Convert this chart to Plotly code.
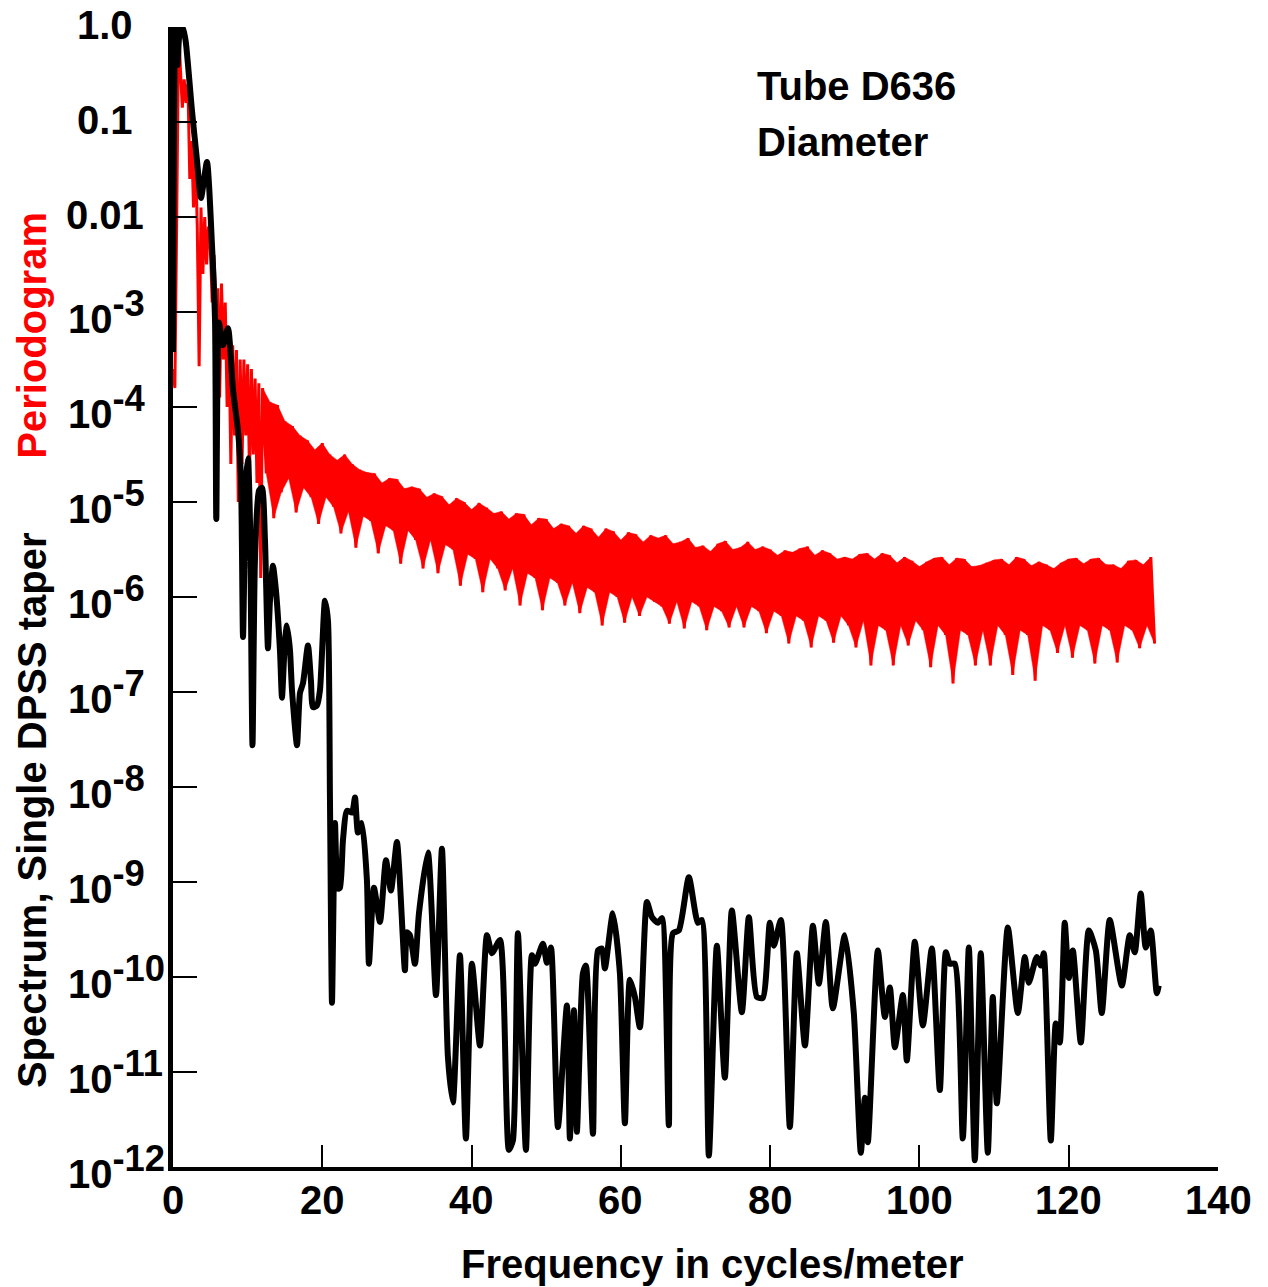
import numpy as np
import plotly.graph_objects as go

# ---------------- data ----------------
# Periodogram, low-frequency part (freq in cycles/m, log10 of spectrum)
red_freq_low = [0.0, 0.25, 0.5, 0.75, 1.0, 1.25, 1.5, 1.75, 2.0, 2.25, 2.5, 2.75,
                3.0, 3.25, 3.5, 3.75, 4.0, 4.25, 4.5, 4.75, 5.0, 5.25, 5.5, 5.75,
                6.0, 6.25, 6.5, 6.75, 7.0, 7.25, 7.5, 7.75, 8.0, 8.25, 8.5, 8.75,
                9.0, 9.25, 9.5, 9.75, 10.0, 10.25, 10.5, 10.75, 11.0, 11.25, 11.5, 11.75]
red_log_low = [-3.6, -3.8, -2.0, 0.0, -0.45, -0.85, -0.55, -0.8, -0.6, -1.6, -1.2, -1.9,
               -1.3, -2.1, -3.57, -1.9, -2.6, -2.0, -2.5, -2.1, -2.3, -2.9, -2.4, -3.0,
               -2.75, -3.9, -2.7, -3.5, -2.9, -4.0, -3.3, -4.6, -3.35, -4.3, -3.4, -5.0,
               -3.5, -4.6, -3.5, -4.3, -3.55, -4.7, -3.6, -4.5, -3.7, -4.8, -3.75, -5.8]

# Periodogram peaks at f = 12, 13, ..., 131 (log10)
red_hi_log = [-3.8, -3.95, -3.98, -4.15, -4.2, -4.3, -4.35, -4.45, -4.38, -4.5,
              -4.56, -4.5, -4.6, -4.66, -4.69, -4.7, -4.8, -4.75, -4.76, -4.86,
              -4.84, -4.86, -4.95, -4.91, -4.94, -5.03, -4.96, -5.0, -5.08, -5.01,
              -5.06, -5.12, -5.1, -5.18, -5.12, -5.13, -5.24, -5.17, -5.18, -5.28,
              -5.23, -5.25, -5.33, -5.25, -5.28, -5.37, -5.28, -5.31, -5.4, -5.32,
              -5.34, -5.42, -5.35, -5.38, -5.35, -5.44, -5.42, -5.38, -5.48, -5.46,
              -5.52, -5.44, -5.41, -5.5, -5.48, -5.42, -5.5, -5.47, -5.5, -5.56,
              -5.51, -5.53, -5.49, -5.47, -5.56, -5.51, -5.54, -5.6, -5.58, -5.6,
              -5.55, -5.54, -5.6, -5.54, -5.56, -5.64, -5.58, -5.62, -5.68, -5.63,
              -5.59, -5.58, -5.66, -5.59, -5.6, -5.68, -5.67, -5.64, -5.61, -5.6,
              -5.66, -5.58, -5.6, -5.67, -5.63, -5.66, -5.7, -5.64, -5.6, -5.59,
              -5.65, -5.6, -5.59, -5.66, -5.66, -5.7, -5.62, -5.61, -5.66, -5.58]
# Periodogram troughs at f = 12.5, 13.5, ..., 131.5 (log10)
red_lo_log = [-4.7, -5.17, -4.9, -4.75, -5.11, -4.85, -4.95, -5.23, -4.95, -5.05,
              -5.33, -5.1, -5.48, -5.15, -5.2, -5.54, -5.25, -5.3, -5.65, -5.3,
              -5.4, -5.7, -5.4, -5.75, -5.45, -5.5, -5.88, -5.55, -5.6, -5.95,
              -5.6, -5.7, -5.93, -5.7, -6.09, -5.75, -5.8, -6.14, -5.8, -5.85,
              -6.09, -5.85, -6.17, -5.9, -5.95, -6.3, -5.95, -6.0, -6.27, -6.0,
              -6.2, -6.0, -6.05, -6.1, -6.28, -6.05, -6.33, -6.05, -6.1, -6.35,
              -6.1, -6.15, -6.32, -6.1, -6.32, -6.1, -6.15, -6.38, -6.15, -6.2,
              -6.49, -6.2, -6.25, -6.53, -6.2, -6.25, -6.48, -6.2, -6.3, -6.53,
              -6.25, -6.72, -6.3, -6.35, -6.72, -6.3, -6.51, -6.25, -6.35, -6.74,
              -6.3, -6.4, -6.91, -6.35, -6.4, -6.72, -6.35, -6.72, -6.3, -6.4,
              -6.82, -6.35, -6.4, -6.88, -6.3, -6.35, -6.59, -6.3, -6.64, -6.3,
              -6.35, -6.7, -6.3, -6.35, -6.69, -6.3, -6.35, -6.54, -6.3, -6.49]

# Single DPSS taper spectrum (freq, log10)
blk_freq = [0.0, 0.3, 0.6, 0.9, 1.3, 1.7, 2.54, 3.21, 3.75, 4.55, 5.22, 5.63, 5.8,
            6.16, 6.7, 7.37, 8.04, 8.71, 9.11, 9.38, 9.78, 10.05, 10.31, 10.65, 10.98,
            11.52, 11.92, 12.32, 12.72, 12.99, 13.39, 13.79, 14.33, 14.6, 15.0, 15.27,
            15.67, 15.94, 16.61, 17.01, 17.41, 18.08, 18.48, 18.75, 19.29, 19.69, 20.36,
            20.76, 21.03, 21.3, 21.7, 22.1, 22.37, 22.77, 23.31, 23.98, 24.38, 24.78,
            25.31, 25.98, 26.25, 26.92, 27.73, 28.53, 29.2, 30.0, 31.07, 31.34, 31.74,
            32.41, 32.95, 34.15, 35.23, 36.03, 36.83, 37.5, 38.44, 39.24, 40.05, 41.12,
            42.06, 42.73, 43.8, 45.0, 45.54, 46.21, 47.28, 48.08, 48.49, 49.56, 50.09,
            50.63, 51.57, 52.77, 53.17, 53.71, 54.11, 54.92, 55.32, 56.26, 56.93, 57.46,
            57.86, 58.93, 59.87, 60.54, 61.21, 61.88, 62.55, 63.49, 64.16, 64.96, 65.5,
            66.43, 66.97, 67.77, 69.11, 70.32, 70.85, 71.79, 72.86, 73.93, 74.87, 76.21,
            77.15, 78.22, 79.02, 79.96, 80.5, 81.44, 82.64, 83.58, 84.66, 85.73, 86.53,
            87.46, 88.4, 90.01, 91.21, 92.15, 92.69, 93.09, 94.43, 95.37, 96.04, 96.71,
            97.78, 98.31, 99.38, 100.46, 101.66, 102.73, 103.54, 104.07, 104.74, 105.81,
            106.62, 107.42, 108.22, 109.16, 109.83, 110.37, 111.84, 113.18, 114.12,
            114.65, 115.72, 116.26, 116.66, 117.6, 118.27, 118.8, 119.47, 120.01, 120.55,
            121.62, 122.69, 123.63, 124.43, 125.5, 127.11, 128.18, 128.85, 129.65,
            130.32, 130.99, 131.8, 132.06]
blk_log = [-3.42, 0.0, -0.4, -0.05, 0.0, -0.15, -0.88, -1.4, -1.8, -1.42, -2.29, -3.09, -5.18,
           -3.11, -3.35, -3.17, -3.82, -4.25, -4.77, -6.42, -4.77, -4.54, -5.19, -7.56, -5.61,
           -4.88, -4.85, -5.4, -6.54, -6.04, -5.67, -5.93, -6.56, -7.06, -6.46, -6.3,
           -6.56, -6.98, -7.56, -7.01, -6.91, -6.51, -6.88, -7.16, -7.14, -6.98, -6.04,
           -6.25, -8.14, -10.27, -8.38, -9.07, -9.06, -8.56, -8.25, -8.27, -8.11, -8.48,
           -8.38, -8.98, -9.86, -9.06, -9.42, -8.77, -9.09, -8.58, -9.93, -9.53, -9.56,
           -9.86, -9.33, -8.69, -10.19, -8.65, -10.84, -11.32, -9.77, -11.7, -9.86, -10.72,
           -9.56, -9.75, -9.61, -11.82, -11.72, -9.54, -11.82, -9.77, -9.86, -9.65, -9.85,
           -9.69, -11.58, -10.3, -11.7, -10.35, -11.63, -9.96, -9.88, -11.65, -9.72, -9.7,
           -9.91, -9.33, -9.96, -11.54, -10.03, -10.21, -10.53, -9.21, -9.37, -9.43, -9.38,
           -11.56, -9.54, -9.51, -8.95, -9.43, -9.4, -11.88, -9.67, -11.06, -9.3, -10.37,
           -9.37, -10.21, -10.22, -9.43, -9.67, -9.4, -11.58, -9.75, -10.72, -9.46, -10.07,
           -9.42, -10.33, -9.56, -10.38, -11.85, -11.27, -11.74, -9.72, -10.42, -10.11, -10.74,
           -10.19, -10.88, -9.63, -10.51, -9.7, -11.19, -9.74, -9.86, -9.86, -11.7,
           -9.69, -11.93, -9.75, -11.85, -10.21, -11.33, -9.48, -10.38, -9.79,
           -10.06, -9.79, -9.88, -9.75, -11.72, -10.49, -10.69, -9.43, -10.01, -9.72,
           -10.69, -9.51, -9.72, -10.38, -9.4, -10.09, -9.56, -9.74, -9.12,
           -9.69, -9.51, -10.17, -10.09]

x_tick_vals = [0, 20, 40, 60, 80, 100, 120, 140]
x_tick_text = ["0", "20", "40", "60", "80", "100", "120", "140"]
y_tick_exps = list(range(-12, 1))
y_tick_text = (["10<sup><span style='font-size:130%'>" + "-" + str(-e) + "</span></sup>"
                for e in range(-12, -2)]
               + ["0.01", "0.1", "1.0"])

# ---------------- assemble periodogram ----------------
hi_f = [12 + i for i in range(len(red_hi_log))]
lo_f = [12.5 + i for i in range(len(red_lo_log))]
red_f = list(red_freq_low)
red_l = list(red_log_low)
for i in range(len(red_hi_log)):
    red_f += [hi_f[i], lo_f[i]]
    red_l += [red_hi_log[i], red_lo_log[i]]

band_f = hi_f + lo_f[::-1]
band_l = red_hi_log + red_lo_log[::-1]

FONT = "Liberation Sans, Arial, Helvetica, sans-serif"
RED = "#ff0000"

fig = go.Figure()
fig.add_trace(go.Scatter(x=band_f, y=10 ** np.array(band_l), mode="lines", fill="toself",
                         fillcolor=RED, line=dict(color=RED, width=0.5), showlegend=False,
                         hoverinfo="skip"))
fig.add_trace(go.Scatter(x=red_f, y=10 ** np.array(red_l), mode="lines",
                         line=dict(color=RED, width=3), showlegend=False))
fig.add_trace(go.Scatter(x=blk_freq, y=10 ** np.array(blk_log), mode="lines",
                         line=dict(color="black", width=6, shape="spline", smoothing=0.6),
                         showlegend=False))

# dotted minor ticks (2..6 within each decade)
shapes = []
for d in range(-12, 0):
    for m in [2, 3, 4, 5, 6]:
        yv = d + np.log10(m)
        shapes.append(dict(type="line", xref="paper", yref="y", x0=0.003, x1=0.018,
                           y0=yv, y1=yv, layer="below",
                           line=dict(color="black", width=2, dash="2px,2px")))

tf = dict(family=FONT, size=40, color="black", weight="bold")
annotations = []
for v, t in zip(x_tick_vals, x_tick_text):
    annotations.append(dict(text=t, xref="x", yref="paper", x=v, y=-0.029,
                            xanchor="center", yanchor="middle", showarrow=False, font=tf))
for e, t in zip(y_tick_exps, y_tick_text):
    if "sup" in t:
        annotations.append(dict(text=t, xref="paper", yref="y", x=-0.102, y=e,
                                xanchor="left", yanchor="middle", showarrow=False, font=tf))
    else:
        annotations.append(dict(text=t, xref="paper", yref="y", x=-0.065, y=e, yshift=2,
                                xanchor="center", yanchor="middle", showarrow=False, font=tf))

annotations += [
    dict(text="Frequency in cycles/meter", xref="paper", yref="paper", x=0.516, y=-0.085,
         xanchor="center", yanchor="middle", showarrow=False, font=tf),
    dict(text="Spectrum, Single DPSS taper", xref="paper", yref="paper", x=-0.135, y=0.313,
         xanchor="center", yanchor="middle", textangle=-90, showarrow=False, font=tf),
    dict(text="Periodogram", xref="paper", yref="paper", x=-0.135, y=0.730,
         xanchor="center", yanchor="middle", textangle=-90, showarrow=False,
         font=dict(family=FONT, size=40, color=RED, weight="bold")),
    dict(text="Tube D636", xref="paper", yref="paper", x=0.557, y=0.9485,
         xanchor="left", yanchor="middle", showarrow=False, font=tf),
    dict(text="Diameter", xref="paper", yref="paper", x=0.557, y=0.8995,
         xanchor="left", yanchor="middle", showarrow=False, font=tf),
]

fig.update_layout(
    width=1268, height=1287,
    margin=dict(l=173, r=50, t=27, b=120),
    paper_bgcolor="white", plot_bgcolor="white",
    font=dict(family=FONT, size=40, color="black", weight="bold"),
    shapes=shapes,
    annotations=annotations,
    xaxis=dict(range=[0, 140], tickvals=x_tick_vals, showticklabels=False,
               ticks="inside", ticklen=22, tickwidth=2, tickcolor="black",
               showline=True, linewidth=4, linecolor="black",
               showgrid=False, zeroline=False),
    yaxis=dict(type="log", range=[-12, 0], tickvals=[10.0 ** e for e in y_tick_exps],
               showticklabels=False, ticks="inside", ticklen=24, tickwidth=2,
               tickcolor="black", showline=True, linewidth=5, linecolor="black",
               showgrid=False, zeroline=False),
)

fig.write_html("out.html")
